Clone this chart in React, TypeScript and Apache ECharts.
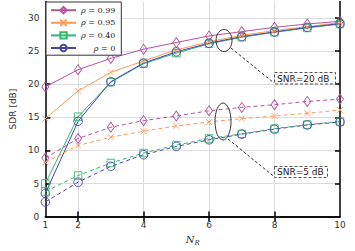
import React, { useEffect, useRef } from "react";
import * as echarts from "echarts";

const nr = [1, 2, 3, 4, 5, 6, 7, 8, 9, 10];
const rhoNames = ["ρ = 0.99", "ρ = 0.95", "ρ = 0.40", "ρ = 0"];
const snr20Rho099 = [19.6, 22.2, 23.9, 25.3, 26.3, 27.3, 27.95, 28.6, 29.1, 29.5];
const snr20Rho095 = [14.8, 19.0, 21.8, 23.5, 25.2, 26.4, 27.4, 28.1, 28.7, 29.3];
const snr20Rho040 = [5.0, 15.1, 20.3, 23.1, 24.7, 26.1, 27.1, 27.85, 28.5, 29.1];
const snr20Rho0 = [3.5, 14.4, 20.4, 23.2, 24.9, 26.2, 27.2, 27.9, 28.6, 29.15];
const snr5Rho099 = [8.85, 11.8, 13.5, 14.5, 15.2, 16.0, 16.5, 16.9, 17.4, 17.75];
const snr5Rho095 = [8.2, 10.75, 12.0, 12.9, 13.7, 14.3, 14.8, 15.2, 15.6, 16.1];
const snr5Rho040 = [3.8, 6.2, 8.1, 9.6, 10.8, 11.8, 12.5, 13.3, 13.9, 14.35];
const snr5Rho0 = [2.2, 5.2, 7.6, 9.35, 10.6, 11.6, 12.45, 13.2, 13.85, 14.3];
const xTickLabels = [1, 2, 4, 6, 8, 10];
const xTicks = [2, 4, 6, 8];
const yTickLabels = [0, 5, 10, 15, 20, 25, 30];
const yTicks = [5, 10, 15, 20, 25, 30];

const colors = ["#b5549f", "#ff9a56", "#33b86b", "#4646aa"];
const symbols = [
  "diamond",
  "path://M0,0L10,10M10,0L0,10",
  "rect",
  "circle",
];
const symbolSizes: any[] = [[7, 10], 6, 7.5, 8.5];

export default function App() {
  const ref = useRef<HTMLDivElement>(null);
  useEffect(() => {
    const chart = echarts.init(ref.current!, undefined, { renderer: "svg" });
    const solid = [snr20Rho099, snr20Rho095, snr20Rho040, snr20Rho0];
    const dashed = [snr5Rho099, snr5Rho095, snr5Rho040, snr5Rho0];
    const mk = (vals: number[], i: number, dash: boolean) => ({
      type: "line",
      name: rhoNames[i],
      data: nr.map((x, k) => [x, vals[k]]),
      symbol: symbols[i],
      symbolSize: symbolSizes[i],
      showSymbol: true,
      lineStyle: { color: colors[i], width: 1, type: dash ? [4, 3] : "solid" },
      itemStyle: { color: "rgba(0,0,0,0)", borderColor: colors[i], borderWidth: 0.9 },
      z: 3,
    });
    const series: any[] = [];
    for (let i = 0; i < 4; i++) series.push(mk(solid[i], i, false));
    for (let i = 0; i < 4; i++) series.push(mk(dashed[i], i, true));

    const axisLine = { show: true, lineStyle: { color: "#000", width: 1.5 } };
    const tickStyle = { color: "#000", width: 1.5 };
    const labelFont = { fontFamily: "DejaVu Sans", fontSize: 9, color: "#333" };

    chart.setOption({
      animation: false,
      grid: { left: 44, right: 15, top: 1.5, bottom: 34 },
      legend: {
        left: 46,
        top: 2,
        orient: "vertical",
        data: rhoNames,
        backgroundColor: "#fff",
        borderColor: "#333",
        borderWidth: 1,
        padding: [4, 6, 3, 4],
        itemWidth: 25,
        itemHeight: 8,
        itemGap: 4.2,
        textStyle: {
          fontFamily: "DejaVu Serif",
          fontSize: 8,
          color: "#222",
          rich: { i: { fontFamily: "DejaVu Serif", fontStyle: "italic", fontSize: 8, color: "#222" } },
        },
        formatter: (name: string) => {
          const rest = name.replace("ρ", "");
          return (name === "ρ = 0" ? "     " : "") + "{i|ρ}" + rest;
        },
      },
      xAxis: [
        {
          type: "value",
          min: 1,
          max: 10,
          position: "bottom",
          name: "{n|N}{s|R}",
          nameLocation: "middle",
          nameGap: 16,
          nameTextStyle: {
            rich: {
              n: { fontFamily: "DejaVu Serif", fontStyle: "italic", fontSize: 10, color: "#333" },
              s: { fontFamily: "DejaVu Serif", fontStyle: "italic", fontSize: 7, color: "#333", padding: [6, 0, 0, 0] },
            },
          },
          axisLine,
          axisTick: { show: true, inside: true, length: 5, lineStyle: tickStyle, customValues: xTicks },
          axisLabel: { ...labelFont, margin: 4, customValues: xTickLabels },
          splitLine: { show: true, lineStyle: { color: "#dcdcdc", width: 1 } },
        },
        {
          type: "value",
          min: 1,
          max: 10,
          position: "top",
          axisLine,
          axisTick: { show: true, inside: true, length: 5, lineStyle: tickStyle, customValues: xTicks },
          axisLabel: { show: false },
          splitLine: { show: false },
        },
      ],
      yAxis: [
        {
          type: "value",
          min: 0,
          max: 32.5,
          interval: 5,
          name: "SDR [dB]",
          nameLocation: "middle",
          nameGap: 26,
          nameTextStyle: { fontFamily: "DejaVu Sans", fontSize: 9, color: "#333" },
          axisLine,
          axisTick: { show: true, inside: true, length: 5, lineStyle: tickStyle, customValues: yTicks },
          axisLabel: { ...labelFont, margin: 6, customValues: yTickLabels },
          splitLine: { show: true, lineStyle: { color: "#dcdcdc", width: 1 } },
        },
        {
          type: "value",
          min: 0,
          max: 32.5,
          interval: 5,
          position: "right",
          axisLine,
          axisTick: { show: true, inside: true, length: 5, lineStyle: tickStyle, customValues: yTicks },
          axisLabel: { show: false },
          splitLine: { show: false },
        },
      ],
      series,
      graphic: [
        { type: "ellipse", shape: { cx: 224, cy: 40.5, rx: 8, ry: 11 }, style: { fill: "none", stroke: "#333", lineWidth: 1 }, z: 10 },
        { type: "line", shape: { x1: 231, y1: 48, x2: 274, y2: 83 }, style: { stroke: "#333", lineWidth: 1, lineDash: [3, 2] }, z: 10 },
        { type: "rect", shape: { x: 274.5, y: 72.5, width: 61, height: 11.5 }, style: { fill: "#fff", stroke: "#555", lineWidth: 1, lineDash: [3, 2] }, z: 10 },
        { type: "text", x: 277, y: 78.5, style: { text: "SNR=20 dB", fontFamily: "DejaVu Sans", fontSize: 9, fill: "#222", verticalAlign: "middle" }, z: 11 },
        { type: "ellipse", shape: { cx: 223, cy: 121.5, rx: 8, ry: 18.5 }, style: { fill: "none", stroke: "#333", lineWidth: 1 }, z: 10 },
        { type: "line", shape: { x1: 228, y1: 139, x2: 274, y2: 176.5 }, style: { stroke: "#333", lineWidth: 1, lineDash: [3, 2] }, z: 10 },
        { type: "rect", shape: { x: 274.5, y: 166.5, width: 53, height: 11 }, style: { fill: "#fff", stroke: "#555", lineWidth: 1, lineDash: [3, 2] }, z: 10 },
        { type: "text", x: 277, y: 172, style: { text: "SNR=5 dB", fontFamily: "DejaVu Sans", fontSize: 9, fill: "#222", verticalAlign: "middle" }, z: 11 },
      ],
    });
    return () => chart.dispose();
  }, []);
  return <div ref={ref} style={{ width: 355, height: 251, position: "absolute", left: 0, top: 0 }} />;
}
